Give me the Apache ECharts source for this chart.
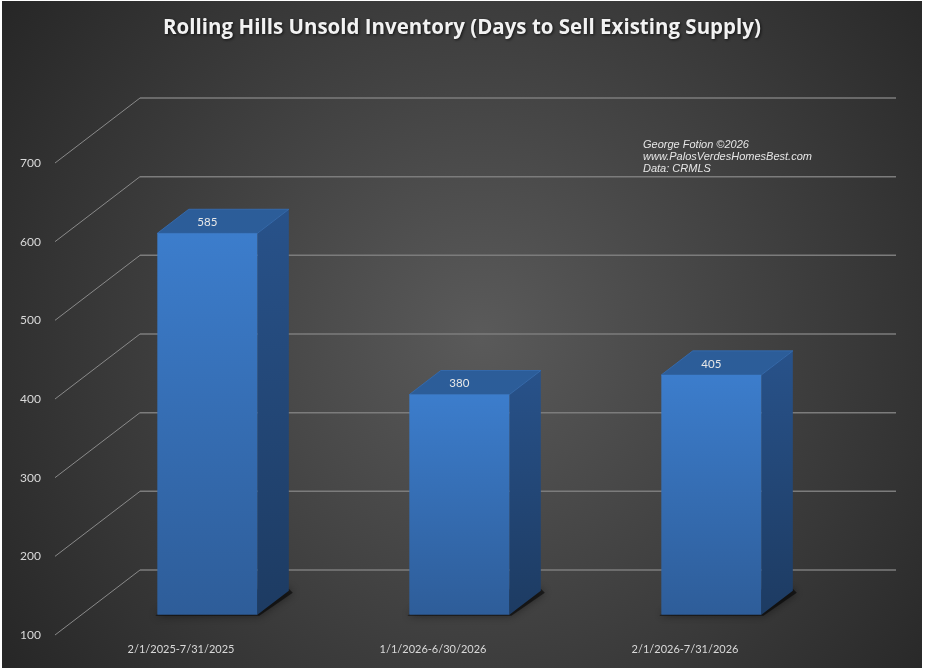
<!DOCTYPE html>
<html>
<head>
<meta charset="utf-8">
<script src="https://cdn.jsdelivr.net/npm/echarts@6/dist/echarts.min.js"></script>
<style>
  html, body { margin: 0; padding: 0; background: #ffffff; }
  #main { position: absolute; left: 2px; top: 1px; width: 920px; height: 667px; }
</style>
</head>
<body>
<div id="main"></div>
<script>
// 数据
var categories = ['2/1/2025-7/31/2025', '1/1/2026-6/30/2026', '2/1/2026-7/31/2026'];
var days = [585, 380, 405];
var yTicks = [100, 200, 300, 400, 500, 600, 700];
var notes = ['George Fotion \u00a92026', 'www.PalosVerdesHomesBest.com', 'Data: CRMLS'];

// 3D 透视参数 (像素)
var DEPTH_X = 85, DEPTH_Y = -65;   // 地板深度
var D0 = 0.31, D1 = 0.68;          // 柱子前后面所在深度
var BAR_W = 0.397;                 // 柱宽占类目宽度

var myChart = echarts.init(document.getElementById('main'));

// 背景网格线: 斜线 + 后墙横线
function renderGrid(params, api) {
    var p = api.coord([0, api.value(1)]);
    var left = params.coordSys.x;
    var right = params.coordSys.x + params.coordSys.width;
    return {
        type: 'group',
        children: [{
            type: 'line',
            shape: { x1: left, y1: p[1], x2: left + DEPTH_X, y2: p[1] + DEPTH_Y },
            style: { stroke: '#8a8a8a', lineWidth: 1 }
        }, {
            type: 'line',
            shape: { x1: left + DEPTH_X, y1: p[1] + DEPTH_Y, x2: right + DEPTH_X, y2: p[1] + DEPTH_Y },
            style: { stroke: '#7c7c7c', lineWidth: 1.5 }
        }]
    };
}

function renderBar(params, api) {
    var cat = api.value(0), val = api.value(1);
    var top = api.coord([cat, val]);
    var base = api.coord([cat, yTicks[0]]);
    var w = api.size([1, 0])[0] * BAR_W;
    var fx = DEPTH_X * D0, fy = DEPTH_Y * D0;
    var dx = DEPTH_X * (D1 - D0), dy = DEPTH_Y * (D1 - D0);
    var x0 = top[0] - w / 2 + fx, x1 = x0 + w;
    var yT = top[1] + fy, yB = base[1] + fy;
    return {
        type: 'group',
        children: [{
            // 阴影
            type: 'polygon',
            shape: { points: [[x0 - 2, yB + 1], [x1 + 2, yB + 1], [x1 + dx + 4, yB + dy + 2], [x1 + dx, yB + dy - 2], [x0 + dx, yB + dy]] },
            style: { fill: 'rgba(0,0,0,0.55)', shadowBlur: 8, shadowColor: 'rgba(0,0,0,0.8)' }
        }, {
            // 侧面
            type: 'polygon',
            shape: { points: [[x1, yT], [x1 + dx, yT + dy], [x1 + dx, yB + dy], [x1, yB]] },
            style: {
                fill: new echarts.graphic.LinearGradient(0, 0, 0, 1, [
                    { offset: 0, color: '#28528a' },
                    { offset: 1, color: '#1d3b62' }
                ])
            }
        }, {
            // 顶面
            type: 'polygon',
            shape: { points: [[x0, yT], [x0 + dx, yT + dy], [x1 + dx, yT + dy], [x1, yT]] },
            style: { fill: '#2c5d99', stroke: '#3469ab', lineWidth: 1 }
        }, {
            // 正面
            type: 'rect',
            shape: { x: x0, y: yT, width: w, height: yB - yT },
            style: {
                fill: new echarts.graphic.LinearGradient(0, 0, 0, 1, [
                    { offset: 0, color: '#3c7dcc' },
                    { offset: 1, color: '#2e5d99' }
                ])
            }
        }, {
            type: 'text',
            style: {
                text: String(val),
                x: top[0] + fx,
                y: yT + dy / 2 + 1,
                align: 'center',
                verticalAlign: 'middle',
                fill: '#e8e8e8',
                font: '11.5px Lato, "Open Sans", sans-serif'
            }
        }]
    };
}

var option = {
    backgroundColor: {
        type: 'radial', x: 0.52, y: 0.5, r: 0.95,
        colorStops: [
            { offset: 0, color: '#5a5a5a' },
            { offset: 1, color: '#222222' }
        ]
    },
    title: {
        text: 'Rolling Hills Unsold Inventory (Days to Sell Existing Supply)',
        left: 'center',
        top: 12,
        textStyle: {
            color: '#f2f2f2', fontSize: 20.5, fontWeight: 'bold', fontFamily: '"Open Sans", sans-serif',
            textShadowColor: 'rgba(0,0,0,0.7)', textShadowBlur: 3, textShadowOffsetX: 1, textShadowOffsetY: 1
        }
    },
    grid: { left: 53, top: 162, width: 756, height: 472 },
    xAxis: {
        type: 'category',
        data: categories,
        axisLine: { show: false },
        axisTick: { show: false },
        axisLabel: { color: '#d9d9d9', fontSize: 11, margin: 9, fontFamily: 'Lato, "Open Sans", sans-serif' }
    },
    yAxis: {
        type: 'value',
        min: 100,
        max: 700,
        interval: 100,
        axisLine: { show: false },
        axisTick: { show: false },
        splitLine: { show: false },
        axisLabel: { color: '#d9d9d9', fontSize: 12, margin: 14, fontFamily: 'Lato, "Open Sans", sans-serif' }
    },
    graphic: [{
        type: 'text',
        left: 641,
        top: 138,
        style: {
            text: notes.join('\n'),
            fill: '#e6e6e6',
            font: 'italic 11px "Liberation Sans", Arial, sans-serif',
            lineHeight: 12
        }
    }],
    series: [{
        type: 'custom',
        renderItem: renderGrid,
        data: yTicks.map(function (v) { return [0, v]; }),
        silent: true,
        z: 1
    }, {
        type: 'custom',
        renderItem: renderBar,
        data: days.map(function (v, i) { return [i, v]; }),
        z: 2
    }]
};

myChart.setOption(option);
</script>
</body>
</html>
